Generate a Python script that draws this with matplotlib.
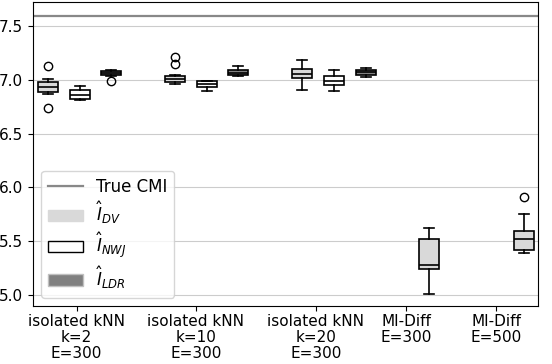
import numpy as np
import matplotlib
matplotlib.use("Agg")
import matplotlib.pyplot as plt
from matplotlib.lines import Line2D
from matplotlib.patches import Patch

TRUE_CMI = 7.59

# box positions on the x axis (three estimators per kNN setting, one for MI-Diff)
DV_POS = [0, 4, 8, 12, 15]
NWJ_POS = [1, 5, 9]
LDR_POS = [2, 6, 10]

TICK_POS = [0.9, 4.66, 8.44, 11.28, 14.11]
TICK_LABELS = ['isolated kNN\nk=2\nE=300', 'isolated kNN\nk=10\nE=300',
               'isolated kNN\nk=20\nE=300', 'MI-Diff\nE=300', 'MI-Diff\nE=500']

# box stats: whislo, q1, med, q3, whishi
DV_LO = [6.87, 6.964, 6.90, 5.015, 5.397]
DV_Q1 = [6.89, 6.98, 7.014, 5.248, 5.425]
DV_MED = [6.93, 7.007, 7.056, 5.285, 5.52]
DV_Q3 = [6.975, 7.033, 7.10, 5.518, 5.598]
DV_HI = [7.005, 7.04, 7.178, 5.626, 5.756]
DV_FLIERS = [[7.128, 6.74], [7.209, 7.147], [], [], [5.914]]

NWJ_LO = [6.81, 6.893, 6.896]
NWJ_Q1 = [6.825, 6.93, 6.949]
NWJ_MED = [6.86, 6.958, 6.985]
NWJ_Q3 = [6.905, 6.983, 7.033]
NWJ_HI = [6.94, 6.987, 7.094]
NWJ_FLIERS = [[], [], []]

LDR_LO = [7.03, 7.033, 7.02]
LDR_Q1 = [7.042, 7.04, 7.047]
LDR_MED = [7.06, 7.06, 7.07]
LDR_Q3 = [7.079, 7.085, 7.088]
LDR_HI = [7.094, 7.125, 7.107]
LDR_FLIERS = [[6.99], [], []]


def make_stats(lo, q1, med, q3, hi, fliers):
    return [dict(whislo=a, q1=b, med=c, q3=d, whishi=e, fliers=f)
            for a, b, c, d, e, f in zip(lo, q1, med, q3, hi, fliers)]


fig = plt.figure(figsize=(5.52, 3.64), dpi=100)
ax = fig.add_axes([0.0598, 0.159, 0.9148, 0.8355])

ax.yaxis.grid(True, color='#cccccc', lw=0.8)
ax.set_axisbelow(True)

ax.axhline(TRUE_CMI, color='#888888', lw=1.6)

common = dict(widths=0.63, patch_artist=True, manage_ticks=False,
              medianprops=dict(color='black', lw=1.2),
              flierprops=dict(marker='o', markerfacecolor='none', markeredgecolor='black', markersize=6),
              boxprops=dict(lw=1.2), whiskerprops=dict(lw=1.2), capprops=dict(lw=1.2))

b1 = ax.bxp(make_stats(DV_LO, DV_Q1, DV_MED, DV_Q3, DV_HI, DV_FLIERS), positions=DV_POS, **common)
b2 = ax.bxp(make_stats(NWJ_LO, NWJ_Q1, NWJ_MED, NWJ_Q3, NWJ_HI, NWJ_FLIERS), positions=NWJ_POS, **common)
b3 = ax.bxp(make_stats(LDR_LO, LDR_Q1, LDR_MED, LDR_Q3, LDR_HI, LDR_FLIERS), positions=LDR_POS, **common)

for p in b1['boxes']:
    p.set_facecolor('#d9d9d9')
for p in b2['boxes']:
    p.set_facecolor('white')
for p in b3['boxes']:
    p.set_facecolor('#808080')

ax.set_xlim(-0.47, 15.43)
ax.set_ylim(4.90, 7.72)
ax.set_yticks([5.0, 5.5, 6.0, 6.5, 7.0, 7.5])
ax.set_yticklabels(['5.0', '5.5', '6.0', '6.5', '7.0', '7.5'], fontsize=11)
ax.set_xticks(TICK_POS)
ax.set_xticklabels(TICK_LABELS, fontsize=11, linespacing=1.08)
ax.tick_params(axis='x', pad=2.5)

handles = [Line2D([], [], color='#888888', lw=1.6),
           Patch(facecolor='#d9d9d9', edgecolor='#d9d9d9'),
           Patch(facecolor='white', edgecolor='black'),
           Patch(facecolor='#808080', edgecolor='#c0c0c0')]
labels = ['True CMI', r'$\hat{I}_{DV}$', r'$\hat{I}_{NWJ}$', r'$\hat{I}_{LDR}$']
ax.legend(handles, labels, loc='lower left', fontsize=12, handlelength=2.1,
          labelspacing=0.25)

plt.savefig('out.png', dpi=100)
